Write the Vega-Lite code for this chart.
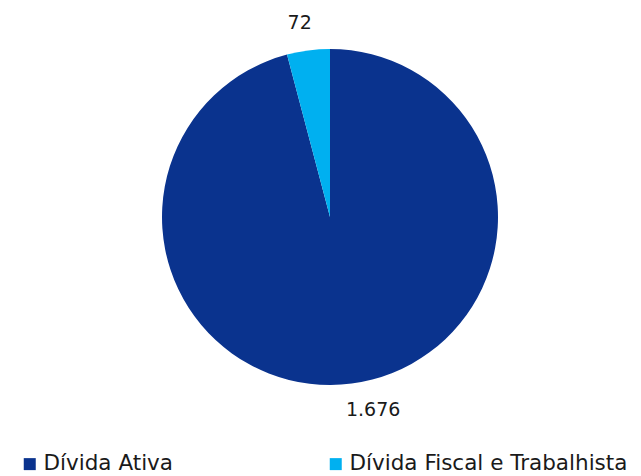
{
  "$schema": "https://vega.github.io/schema/vega-lite/v6.json",
  "width": 622,
  "height": 434,
  "autosize": "none",
  "padding": {"left": 19, "top": 0, "right": 0, "bottom": 42},
  "background": "white",
  "data": {"values": [
    {"categoria": "Dívida Ativa", "valor": 1676, "rotulo": "1.676", "ordem": 1},
    {"categoria": "Dívida Fiscal e Trabalhista", "valor": 72, "rotulo": "72", "ordem": 2}
  ]},
  "encoding": {
    "theta": {"field": "valor", "type": "quantitative", "stack": true},
    "order": {"field": "ordem", "type": "quantitative"}
  },
  "layer": [
    {
      "mark": {"type": "arc", "radius": 168},
      "encoding": {
        "color": {
          "field": "categoria", "type": "nominal",
          "scale": {"domain": ["Dívida Ativa", "Dívida Fiscal e Trabalhista"], "range": ["#0A338E", "#00B0F0"]},
          "legend": {
            "title": null,
            "orient": "none",
            "direction": "horizontal",
            "legendX": 0,
            "legendY": 453,
            "padding": 0,
            "symbolType": "square",
            "symbolSize": 144,
            "symbolStrokeWidth": 0,
            "labelFont": "DejaVu Sans",
            "labelFontSize": 21.5,
            "labelColor": "#1a1a1a",
            "labelLimit": 400,
            "labelOffset": 3,
            "columnPadding": 151
          }
        }
      }
    },
    {
      "mark": {"type": "text", "radius": 196, "dx": -5, "font": "DejaVu Sans", "fontSize": 19, "color": "#1a1a1a"},
      "encoding": {
        "text": {"condition": {"test": "datum.ordem == 2", "field": "rotulo"}, "value": ""}
      }
    },
    {
      "mark": {"type": "text", "radius": 195, "dx": 18, "font": "DejaVu Sans", "fontSize": 19, "color": "#1a1a1a"},
      "encoding": {
        "text": {"condition": {"test": "datum.ordem == 1", "field": "rotulo"}, "value": ""}
      }
    }
  ]
}
